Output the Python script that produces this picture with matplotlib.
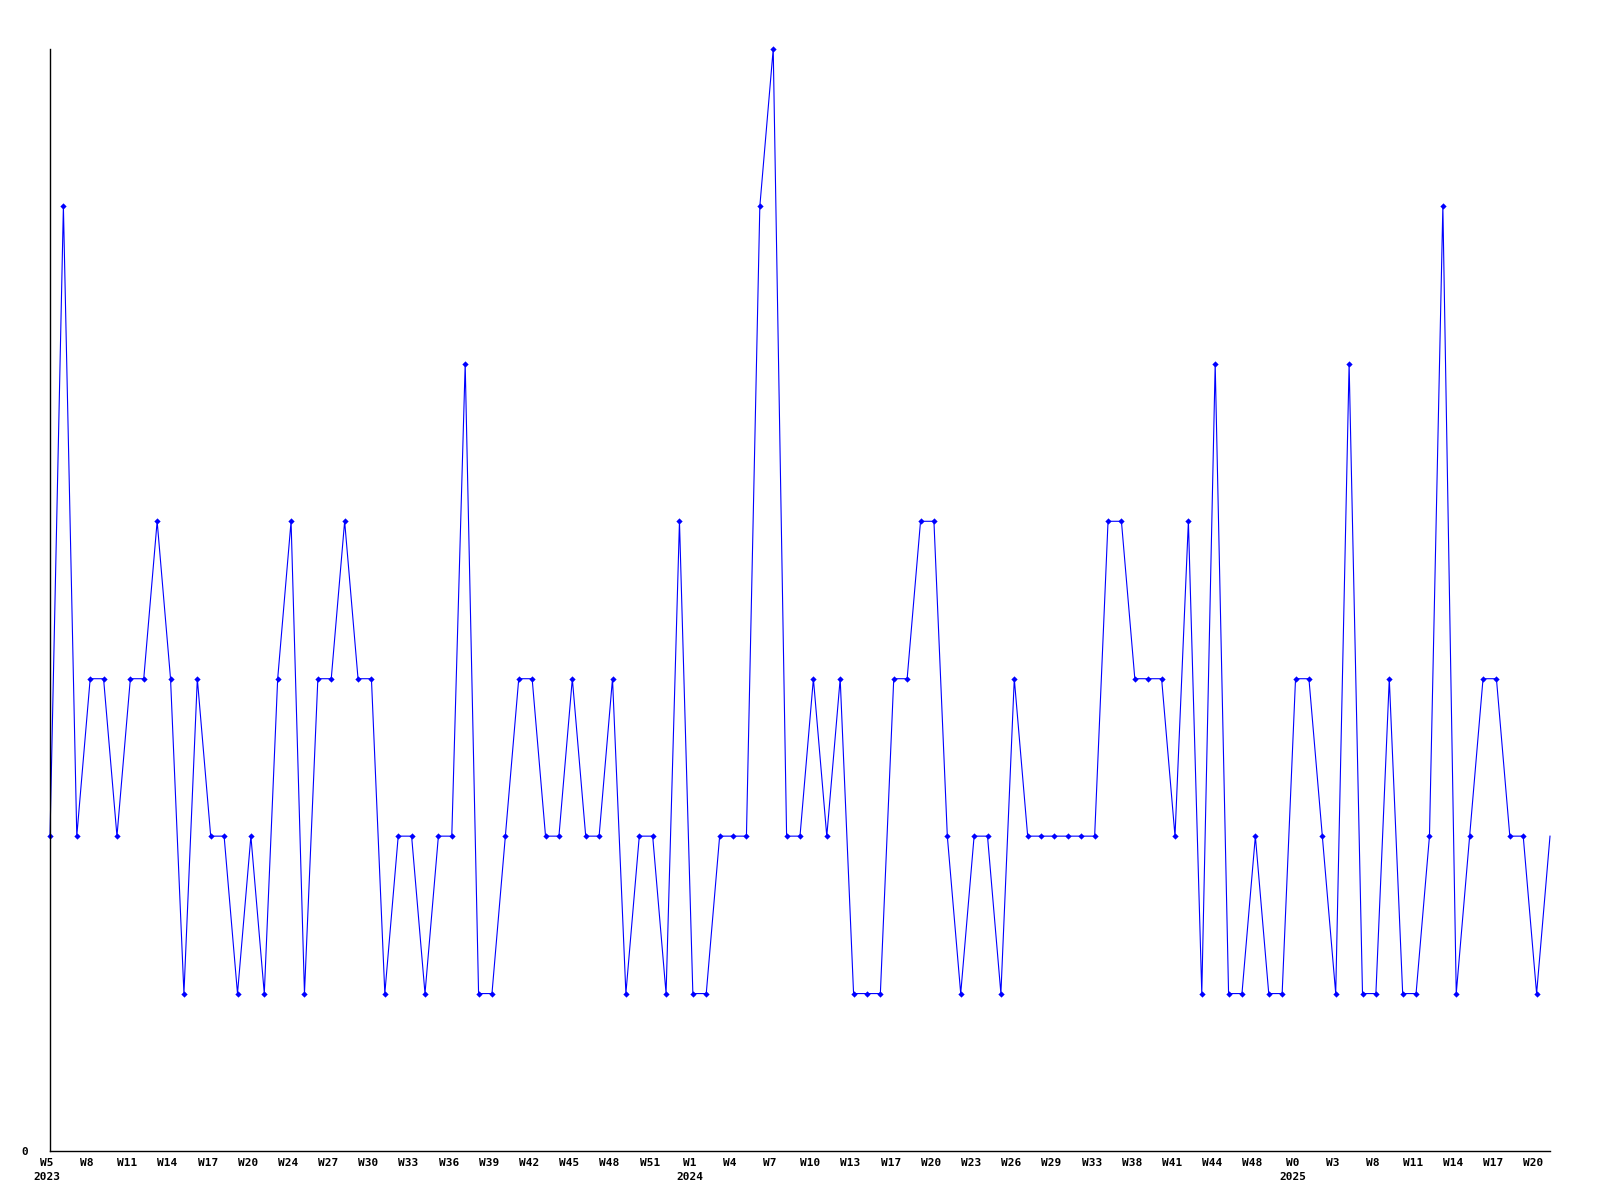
import matplotlib
matplotlib.use('Agg')
import matplotlib.pyplot as plt
import matplotlib.transforms as mtransforms
import numpy as np

# Weekly counts, one value per point
values = [2, 6, 2, 3, 3, 2, 3, 3, 4, 3,
          1, 3, 2, 2, 1, 2, 1, 3, 4, 1,
          3, 3, 4, 3, 3, 1, 2, 2, 1, 2,
          2, 5, 1, 1, 2, 3, 3, 2, 2, 3,
          2, 2, 3, 1, 2, 2, 1, 4, 1, 1,
          2, 2, 2, 6, 7, 2, 2, 3, 2, 3,
          1, 1, 1, 3, 3, 4, 4, 2, 1, 2,
          2, 1, 3, 2, 2, 2, 2, 2, 2, 4,
          4, 3, 3, 3, 2, 4, 1, 5, 1, 1,
          2, 1, 1, 3, 3, 2, 1, 5, 1, 1,
          3, 1, 1, 2, 6, 1, 2, 3, 3, 2,
          2, 1, 2]

# Tick labels, one every third point
week_labels = ['W5', 'W8', 'W11', 'W14', 'W17', 'W20', 'W24', 'W27', 'W30', 'W33',
               'W36', 'W39', 'W42', 'W45', 'W48', 'W51', 'W1', 'W4', 'W7', 'W10',
               'W13', 'W17', 'W20', 'W23', 'W26', 'W29', 'W33', 'W38', 'W41', 'W44',
               'W48', 'W0', 'W3', 'W8', 'W11', 'W14', 'W17', 'W20']
year_labels = {'W5': '2023', 'W1': '2024', 'W0': '2025'}

x = np.arange(len(values))
tick_pos = x[::3][:len(week_labels)]
tick_text = []
for w in week_labels:
    if w in year_labels and year_labels[w] not in ''.join(tick_text):
        tick_text.append(w + '\n' + year_labels[w])
    else:
        tick_text.append(w)

fig = plt.figure(figsize=(16, 12), dpi=100)
ax = fig.add_axes([50 / 1600, 1 - 1151 / 1200, 1500 / 1600, 1102 / 1200])

ax.plot(x, values, color='#0000ff', linewidth=0.8, marker='D', markersize=3.2,
        markeredgewidth=0, markevery=list(range(len(values) - 1)), clip_on=False)

ax.set_xlim(0, len(values) - 1)
ax.set_ylim(0, 7)

ax.spines['top'].set_visible(False)
ax.spines['right'].set_visible(False)
for s in ('left', 'bottom'):
    ax.spines[s].set_linewidth(1.0)
    ax.spines[s].set_color('black')

ax.set_yticks([0])
ax.set_yticklabels(['0'], family='DejaVu Sans Mono', fontweight='bold', fontsize=8)
ax.set_xticks(tick_pos)
ax.set_xticklabels(tick_text, family='DejaVu Sans Mono', fontweight='bold',
                   fontsize=8, linespacing=1.45)
ax.tick_params(axis='x', length=0, pad=5)
ax.tick_params(axis='y', length=0, pad=16)

# labels sit a few pixels left of their points in the original
shift = mtransforms.ScaledTranslation(-3 / 100, 0, fig.dpi_scale_trans)
for lbl in ax.get_xticklabels():
    lbl.set_transform(lbl.get_transform() + shift)

fig.savefig('out.png', dpi=100)
